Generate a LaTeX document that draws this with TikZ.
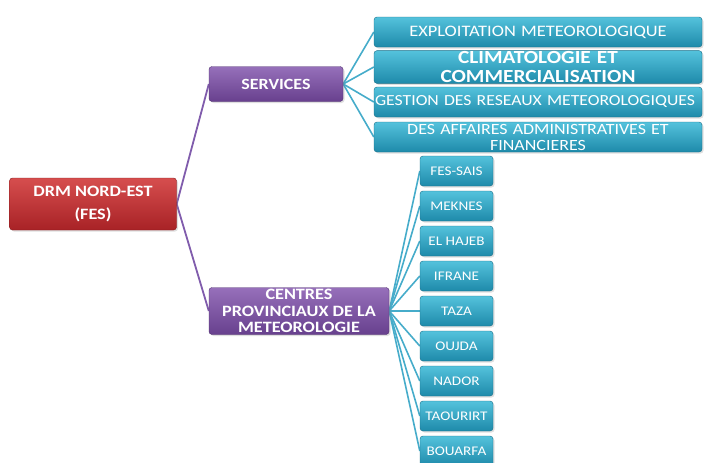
\documentclass[tikz,border=0pt]{standalone}
\usepackage{fontspec}
\setmainfont{Carlito}[FakeStretch=1.15]
\usetikzlibrary{backgrounds,shadows}

\definecolor{redtop}{RGB}{214,78,78}
\definecolor{redbot}{RGB}{168,34,38}
\definecolor{purtop}{RGB}{150,112,186}
\definecolor{purbot}{RGB}{104,64,142}
\definecolor{tealtop}{RGB}{84,194,220}
\definecolor{tealbot}{RGB}{30,138,170}
\definecolor{purline}{RGB}{128,92,172}
\definecolor{tealline}{RGB}{70,172,202}

\begin{document}
\begin{tikzpicture}[x=1pt,y=-1pt,
  box/.style={rounded corners=3pt, text=white, align=center, inner sep=1pt,
    drop shadow={opacity=0.25, shadow xshift=1.5pt, shadow yshift=-1.5pt}},
  rootbox/.style={box, top color=redtop, bottom color=redbot, draw=redbot!80!black,
    minimum width=167pt, minimum height=52pt, font=\bfseries\fontsize{15.8}{23}\selectfont},
  unitbox/.style={box, top color=purtop, bottom color=purbot, draw=purbot!80!black},
  servbox/.style={box, top color=tealtop, bottom color=tealbot, draw=tealbot!80!black,
    text width=326pt, minimum height=30pt, font=\fontsize{16}{16}\selectfont},
  provbox/.style={box, top color=tealtop, bottom color=tealbot, draw=tealbot!80!black,
    minimum width=73pt, minimum height=30pt, font=\fontsize{13.2}{14}\selectfont},
  purlink/.style={draw=purline, line width=1.8pt},
  teallink/.style={draw=tealline, line width=1.6pt}]
  \useasboundingbox (0,0) rectangle (704,463);

  % main nodes
  \node[rootbox] (drm) at (93,204) {DRM NORD-EST\\(FES)};
  \node[unitbox, minimum width=134pt, minimum height=35pt,
    font=\bfseries\fontsize{15.6}{16}\selectfont] (serv) at (276,84) {SERVICES};
  \node[unitbox, minimum width=180pt, minimum height=47pt,
    font=\bfseries\fontsize{15.8}{16.5}\selectfont] (cpm) at (299,311)
    {CENTRES\\PROVINCIAUX DE LA\\METEOROLOGIE};

  % services
  \node[servbox] (s1) at (538,32) {EXPLOITATION METEOROLOGIQUE};
  \node[servbox, font=\bfseries\fontsize{18.5}{18.5}\selectfont] (s2) at (538,67)
    {CLIMATOLOGIE ET\\COMMERCIALISATION};
  \node[servbox, font=\fontsize{15.4}{16}\selectfont] (s3) at (538,102)
    {\makebox[326pt][l]{GESTION DES RESEAUX METEOROLOGIQUES}};
  \node[servbox, font=\fontsize{15.6}{16}\selectfont] (s4) at (538,137)
    {DES AFFAIRES ADMINISTRATIVES ET\\FINANCIERES};

  % provincial centres
  \foreach \name [count=\i] in {FES-SAIS,MEKNES,EL HAJEB,IFRANE,TAZA,OUJDA,NADOR,TAOURIRT,BOUARFA}
    \node[provbox] (p\i) at (456.5,136+35*\i) {\name};

  \begin{scope}[on background layer]
    \draw[purlink] (drm.east) -- (serv.west);
    \draw[purlink] (drm.east) -- (cpm.west);
    \foreach \i in {1,...,4}
      \draw[teallink] (serv.east) -- (s\i.west);
    \foreach \i in {1,...,9}
      \draw[teallink] (cpm.east) -- (p\i.west);
  \end{scope}
\end{tikzpicture}
\end{document}
